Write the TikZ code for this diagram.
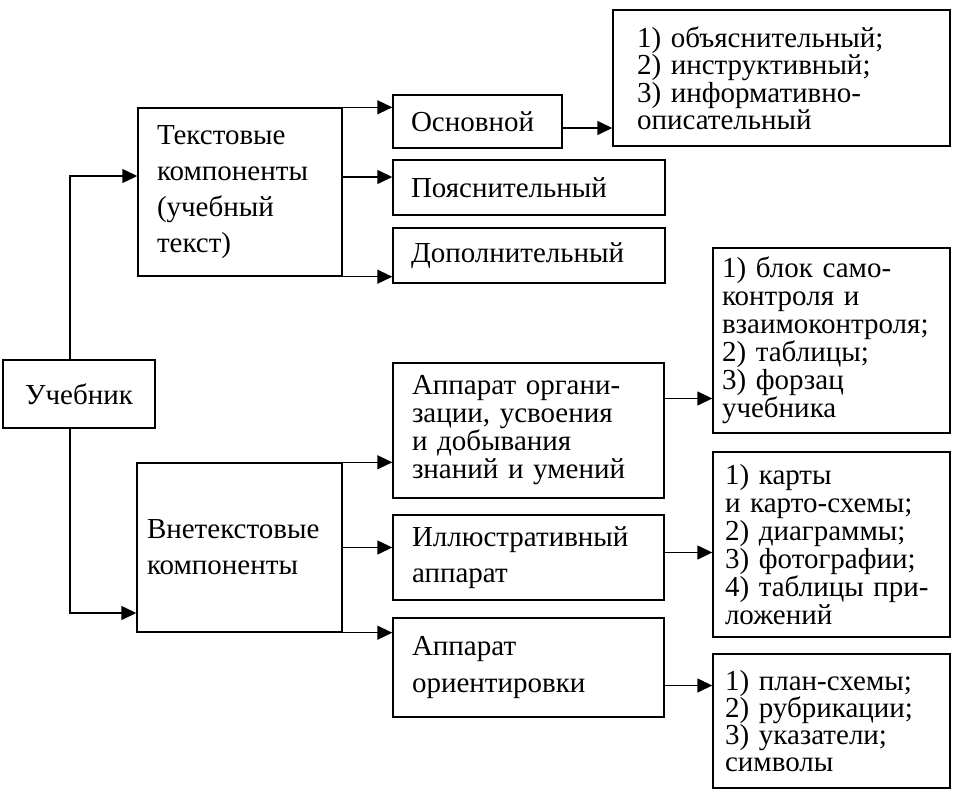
\documentclass[tikz,border=0pt]{standalone}
\usepackage{fontspec}
\setmainfont{Liberation Serif}
\usetikzlibrary{arrows.meta}
\begin{document}
\begin{tikzpicture}[x=1pt,y=-1pt,
  box/.style={draw, line width=1.4pt, inner ysep=0pt, align=left},
  arr/.style={line width=1.4pt, -{Triangle[length=15pt,width=14pt]}},
  fA/.style={font=\fontsize{29}{36}\selectfont},
  fB/.style={font=\fontsize{29}{28}\selectfont},
  fC/.style={font=\fontsize{29}{25}\selectfont}]
\useasboundingbox (0,0) rectangle (977,798);

\node[box, fA, align=center, inner xsep=0pt, text width=152pt, minimum height=68pt] (U) at (79,394) {Учебник};
\node[box, fA, inner xsep=19pt, text width=166pt, minimum height=168pt] (T) at (240,192) {Текстовые\\компоненты\\(учебный\\текст)};
\node[box, fA, inner xsep=10pt, text width=185pt, minimum height=169pt] (V) at (239.5,547.5) {Внетекстовые\\компоненты};

\node[box, fB, inner xsep=18pt, text width=133pt, minimum height=53pt] (Osn) at (477.5,121.5) {Основной};
\node[box, fB, inner xsep=18pt, text width=236pt, minimum height=55pt] (Poy) at (529,187.5) {Пояснительный};
\node[box, fB, inner xsep=18pt, text width=236pt, minimum height=55pt] (Dop) at (529,255.5) {Дополнительный};

\node[box, fC, inner xsep=24pt, text width=289pt, minimum height=136pt] (L1) at (781.5,78) {1) объяснительный;\\2) инструктивный;\\3) информативно-\\описательный};

\node[box, fB, inner xsep=19pt, text width=233pt, minimum height=135pt] (Org) at (528.5,430.5) {Аппарат органи-\\зации, усвоения\\и добывания\\знаний и умений};
\node[box, fA, inner xsep=19pt, text width=233pt, minimum height=85pt] (Ill) at (528.5,557.5) {Иллюстративный\\аппарат};
\node[box, font=\fontsize{29}{37}\selectfont, inner xsep=19pt, text width=233pt, minimum height=99pt] (Ori) at (528.5,667.5) {Аппарат\\ориентировки};

\node[box, fB, inner xsep=9pt, text width=219pt, minimum height=185pt] (L2) at (831.5,340.5) {1) блок само-\\контроля и\\взаимоконтроля;\\2) таблицы;\\3) форзац\\учебника};
\node[box, fB, inner xsep=12pt, text width=213pt, minimum height=185pt] (L3) at (831.5,544.5) {1) карты\\и карто-схемы;\\2) диаграммы;\\3) фотографии;\\4) таблицы при-\\ложений};
\node[box, font=\fontsize{29}{27}\selectfont, inner xsep=12pt, text width=213pt, minimum height=134pt] (L4) at (831.5,721) {1) план-схемы;\\2) рубрикации;\\3) указатели;\\символы};

% left connectors
\draw[arr] ([xshift=-9pt]U.north) |- ([yshift=16pt]T.west);
\draw[arr] ([xshift=-9pt]U.south) |- ([yshift=-65.5pt]V.west);

% text components
\draw[arr] (T.north east) -- (T.north east -| Osn.west);
\draw[arr] ([yshift=15pt]T.east) -- ([yshift=15pt]T.east -| Poy.west);
\draw[arr] (T.south east) -- (T.south east -| Dop.west);
\draw[arr] ([yshift=-6.5pt]Osn.east) -- ([yshift=-6.5pt]Osn.east -| L1.west);

% non-text components
\draw[arr] (V.north east) -- (V.north east -| Org.west);
\draw[arr] (V.east) -- (V.east -| Ill.west);
\draw[arr] (V.south east) -- (V.south east -| Ori.west);

\draw[arr] ([yshift=32pt]Org.east) -- ([yshift=32pt]Org.east -| L2.west);
\draw[arr] ([yshift=5pt]Ill.east) -- ([yshift=5pt]Ill.east -| L3.west);
\draw[arr] ([yshift=-18pt]Ori.east) -- ([yshift=-18pt]Ori.east -| L4.west);
\end{tikzpicture}
\end{document}
